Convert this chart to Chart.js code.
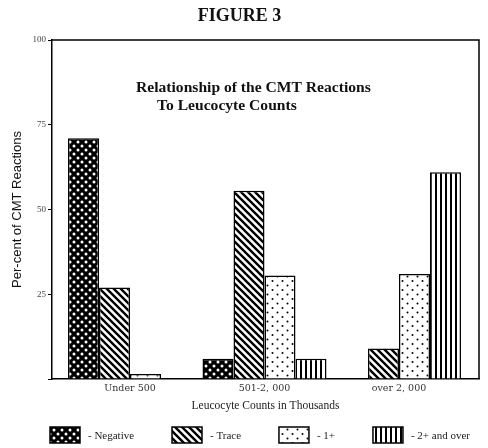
<!DOCTYPE html>
<html><head><meta charset="utf-8">
<script src="https://cdn.jsdelivr.net/npm/chart.js@4.4.1/dist/chart.umd.min.js"></script>
<style>html,body{margin:0;padding:0;background:#fff}#wrap{width:488px;height:448px;position:relative}</style>
</head><body><div id="wrap"><canvas id="c" width="488" height="448"></canvas></div>
<script>
// ---- data ----
const categories = ['Under 500', '501-2, 000', 'over 2, 000'];
const seriesNames = ['Negative', 'Trace', '1+', '2+ and over'];
const negative = [71, 6, 0];
const trace = [27, 55.5, 9];
const onePlus = [1.5, 30.5, 31];
const twoPlus = [0, 6, 61];
const yTicks = [25, 50, 75, 100];
const figureTitle = 'FIGURE 3';
const chartTitle = ['Relationship of the CMT Reactions', 'To Leucocyte Counts'];
const xTitle = 'Leucocyte Counts in Thousands';
const yTitle = 'Per-cent of CMT Reactions';

// ---- patterns ----
function makePattern(w, h, draw) {
  const c = document.createElement('canvas');
  c.width = w; c.height = h;
  const g = c.getContext('2d');
  draw(g, w, h);
  return g.createPattern(c, 'repeat');
}
const patNegative = makePattern(8, 8, (g) => {
  g.fillStyle = '#000'; g.fillRect(0, 0, 8, 8);
  g.fillStyle = '#fff';
  [[2, 2], [6, 6]].forEach(([x, y]) => { g.beginPath(); g.arc(x, y, 1.5, 0, Math.PI * 2); g.fill(); });
});
const patTrace = makePattern(7, 7, (g) => {
  g.fillStyle = '#fff'; g.fillRect(0, 0, 7, 7);
  g.strokeStyle = '#000'; g.lineWidth = 2.4;
  g.beginPath();
  g.moveTo(-1, -1); g.lineTo(8, 8);
  g.moveTo(-1, 6); g.lineTo(1, 8);
  g.moveTo(6, -1); g.lineTo(8, 1);
  g.stroke();
});
const patOne = makePattern(10, 9, (g) => {
  g.fillStyle = '#fff'; g.fillRect(0, 0, 10, 9);
  g.fillStyle = '#000';
  [[2.5, 2], [7.5, 6.5]].forEach(([x, y]) => { g.beginPath(); g.arc(x, y, 1.0, 0, Math.PI * 2); g.fill(); });
});
const patTwo = makePattern(5, 4, (g) => {
  g.fillStyle = '#fff'; g.fillRect(0, 0, 5, 4);
  g.fillStyle = '#000'; g.fillRect(0, 0, 2, 4);
});
const patterns = [patNegative, patTrace, patOne, patTwo];
const seriesValues = [negative, trace, onePlus, twoPlus];

const datasets = seriesNames.map((name, k) => ({
  label: name,
  data: seriesValues[k].map((v, i) => ({ x: i, y: v })),
  backgroundColor: patterns[k],
  borderColor: '#000',
  borderWidth: 1.5,
  categoryPercentage: 0.922,
  barPercentage: 1.0
}));

const decor = {
  id: 'decor',
  afterDraw(chart) {
    const { ctx, chartArea: a } = chart;
    ctx.save();
    // frame top & right
    ctx.strokeStyle = '#000'; ctx.lineWidth = 1.5;
    ctx.beginPath();
    ctx.moveTo(a.left, a.top); ctx.lineTo(a.right, a.top); ctx.lineTo(a.right, a.bottom);
    ctx.stroke();
    // inner title
    ctx.fillStyle = '#111';
    ctx.font = 'bold 15.6px "Liberation Serif"';
    ctx.textBaseline = 'middle'; ctx.textAlign = 'left';
    ctx.fillText(chartTitle[0], a.left + 84, a.top + 48);
    ctx.fillText(chartTitle[1], a.left + 105, a.top + 66);
    // legend (justified between x0 and x1)
    const x0 = 50, x1 = 470, by = 427, bw = 30, bh = 16, tg = 8;
    ctx.font = '11px "Liberation Serif"';
    const texts = chart.data.datasets.map(d => '- ' + d.label);
    const widths = texts.map(t => ctx.measureText(t).width);
    const content = widths.reduce((s, w) => s + w + bw + tg, 0);
    const gap = (x1 - x0 - content) / (texts.length - 1);
    let x = x0;
    chart.data.datasets.forEach((d, k) => {
      ctx.fillStyle = d.backgroundColor;
      ctx.fillRect(x, by, bw, bh);
      ctx.strokeStyle = '#000'; ctx.lineWidth = 1.5;
      ctx.strokeRect(x, by, bw, bh);
      ctx.fillStyle = '#222';
      ctx.fillText(texts[k], x + bw + tg, by + bh / 2 + 1);
      x += bw + tg + widths[k] + gap;
    });
    ctx.restore();
  }
};

new Chart(document.getElementById('c'), {
  type: 'bar',
  data: { datasets },
  plugins: [decor],
  options: {
    responsive: false,
    animation: false,
    devicePixelRatio: 1,
    layout: { padding: { left: 0, right: 9, top: 0, bottom: 35 } },
    plugins: {
      legend: { display: false },
      tooltip: { enabled: false },
      title: {
        display: true, text: figureTitle, color: '#111',
        font: { family: 'Liberation Serif', size: 18, weight: 'bold' },
        padding: { top: 6, bottom: 12.4 }
      }
    },
    scales: {
      x: {
        type: 'linear', min: -0.58, max: 2.595, offset: false,
        afterBuildTicks: s => { s.ticks = categories.map((c, i) => ({ value: i })); },
        afterFit: s => { s.height = 34; },
        ticks: {
          autoSkip: false, maxRotation: 0, padding: 4, color: '#333',
          font: { family: 'DejaVu Serif', size: 9.5 },
          callback: v => categories[v] ?? ''
        },
        grid: { display: false, drawTicks: false },
        border: { display: true, color: '#000', width: 1.5 },
        title: {
          display: true, text: xTitle, color: '#222',
          font: { family: 'Liberation Serif', size: 11.5 },
          padding: { top: 0, bottom: 0 }
        }
      },
      y: {
        type: 'linear', min: 0, max: 100,
        afterBuildTicks: s => { s.ticks = [0, ...yTicks].map(v => ({ value: v })); },
        afterFit: s => { s.width = 52; },
        ticks: {
          color: '#444', padding: 2,
          font: { family: 'Liberation Serif', size: 9 },
          callback: v => (v === 0 ? '' : String(v))
        },
        grid: { display: true, drawOnChartArea: false, drawTicks: true, tickLength: 4, color: '#000', lineWidth: 1 },
        border: { display: true, color: '#000', width: 1.5 },
        title: {
          display: true, text: yTitle, color: '#111',
          font: { family: 'Liberation Sans', size: 13 },
          padding: { top: 10, bottom: 0 }
        }
      }
    }
  }
});
</script></body></html>
